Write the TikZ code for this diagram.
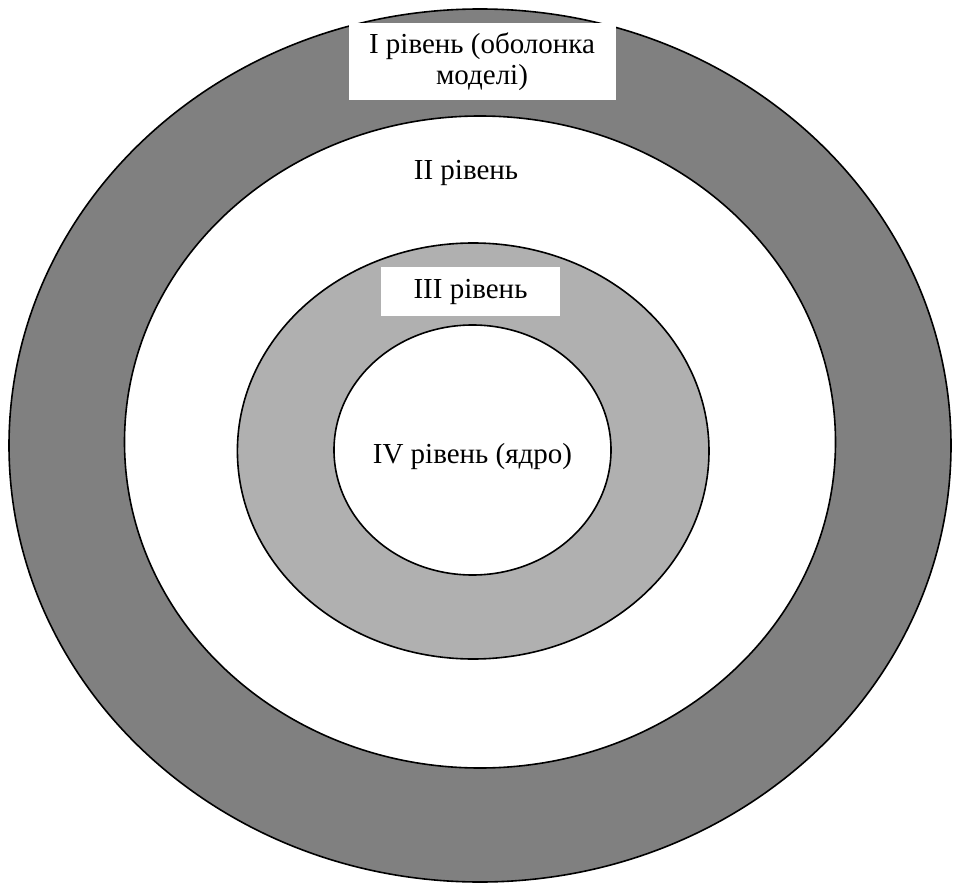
\documentclass[tikz,border=0pt]{standalone}
\usepackage{fontspec}
\setmainfont{Liberation Serif}
\usetikzlibrary{positioning}

\begin{document}
\begin{tikzpicture}[x=1pt,y=-1pt]
  \tikzstyle{ring}=[draw=black,line width=1.6pt]
  \tikzstyle{tag}=[fill=white,inner sep=0pt,align=center,font=\fontsize{29}{31}\selectfont]
  \tikzstyle{word}=[inner sep=0pt,anchor=base,font=\fontsize{29}{31}\selectfont]

    \useasboundingbox (0,0) rectangle (953,885);
    \fill[white] (0,0) rectangle (953,885);

    % levels, from the outside in
    \draw[ring,fill=black!50] (480,445.5) ellipse [x radius=471, y radius=436.5];
    \draw[ring,fill=white] (480,442) ellipse [x radius=355.5, y radius=326];
    \draw[ring,fill=black!31] (473.2,451) ellipse [x radius=235.8, y radius=208];
    \draw[ring,fill=white] (472.5,450) ellipse [x radius=138.5, y radius=125];

    \node [tag,minimum width=267pt,minimum height=77pt] (shell) at (482,62) {I рівень (оболонка\\моделі)};
    \node [word] (second) at (466,180) {II рівень};
    \node [tag,minimum width=179pt,minimum height=49pt] (third) at (470.5,291.5) {III рівень};
    \node [word] (core) at (472.5,463) {IV рівень (ядро)};
\end{tikzpicture}
\end{document}
